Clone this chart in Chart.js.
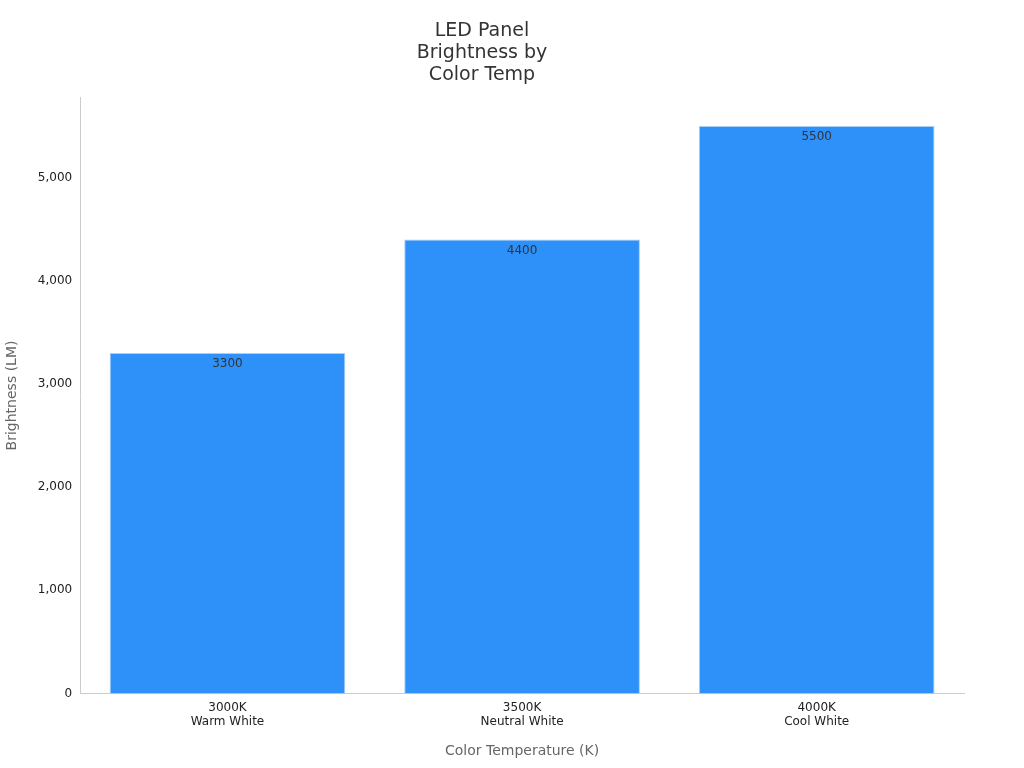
<!DOCTYPE html>
<html>
<head>
<meta charset="utf-8">
<script src="https://cdn.jsdelivr.net/npm/chart.js@4"></script>
<style>
  html, body { margin: 0; padding: 0; background: #fff; }
  #wrap { width: 1024px; height: 768px; }
</style>
</head>
<body>
<div id="wrap"><canvas id="c" width="1024" height="768"></canvas></div>
<script>
const temps = ['3000K', '3500K', '4000K'];
const tones = ['Warm White', 'Neutral White', 'Cool White'];
const brightness = [3300, 4400, 5500];
const yTicks = [0, 1000, 2000, 3000, 4000, 5000];

// value labels just inside the top of each bar
const barLabels = {
  id: 'barLabels',
  afterDatasetsDraw(chart) {
    const ctx = chart.ctx;
    const meta = chart.getDatasetMeta(0);
    ctx.save();
    ctx.font = '12px "DejaVu Sans", sans-serif';
    ctx.fillStyle = '#333';
    ctx.textAlign = 'center';
    ctx.textBaseline = 'top';
    meta.data.forEach((bar, i) => {
      ctx.fillText(String(brightness[i]), bar.x, bar.y + 5);
    });
    ctx.restore();
  }
};

new Chart(document.getElementById('c'), {
  type: 'bar',
  data: {
    labels: temps.map((t, i) => [t, tones[i]]),
    datasets: [{
      data: brightness,
      backgroundColor: '#2e91fa',
      borderColor: '#a9cff7',
      borderWidth: 1,
      barPercentage: 0.8,
      categoryPercentage: 1
    }]
  },
  options: {
    responsive: false,
    animation: false,
    layout: { padding: { left: 0, right: 60, top: 0, bottom: 4 } },
    plugins: {
      legend: { display: false },
      tooltip: { enabled: false },
      title: {
        display: true,
        text: ['LED Panel', 'Brightness by', 'Color Temp'],
        color: '#333',
        font: { family: 'DejaVu Sans', size: 19, weight: 'normal', lineHeight: 1.15 },
        padding: { top: 20, bottom: 12 }
      }
    },
    scales: {
      x: {
        grid: { display: false, drawTicks: true, tickLength: 5 },
        border: { color: '#ccc' },
        ticks: { color: '#222', font: { family: 'DejaVu Sans', size: 12 }, padding: 2 },
        title: { display: true, text: 'Color Temperature (K)', color: '#666',
                 font: { family: 'DejaVu Sans', size: 14 }, padding: { top: 12 } }
      },
      y: {
        min: 0, max: 5775,
        afterBuildTicks(axis) { axis.ticks = yTicks.map(v => ({ value: v })); },
        grid: { display: false, drawTicks: true, tickLength: 5 },
        border: { color: '#ccc' },
        ticks: { color: '#222', font: { family: 'DejaVu Sans', size: 12 }, padding: 3 },
        title: { display: true, text: 'Brightness (LM)', color: '#666',
                 font: { family: 'DejaVu Sans', size: 14 }, padding: { bottom: 14 } }
      }
    }
  },
  plugins: [barLabels]
});
</script>
</body>
</html>
